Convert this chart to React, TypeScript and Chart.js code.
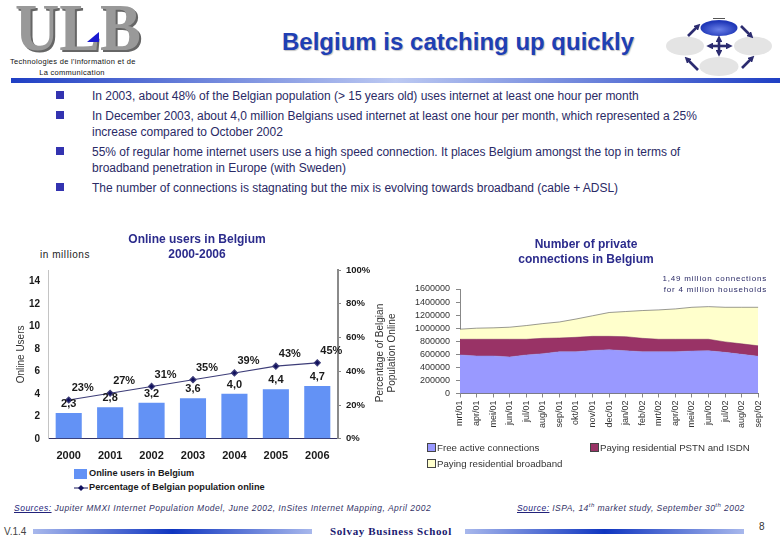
import React, { useEffect, useRef } from "react";
import { Chart, registerables } from "chart.js";

Chart.register(...registerables);

const years = ["2000", "2001", "2002", "2003", "2004", "2005", "2006"];
const onlineUsers = [2.3, 2.8, 3.2, 3.6, 4.0, 4.4, 4.7];
const onlinePercent = [23, 27, 31, 35, 39, 43, 45];
const userTicks = [0, 2, 4, 6, 8, 10, 12, 14];

const months = [
  "mrt/01", "apr/01", "mei/01", "jun/01", "jul/01", "aug/01", "sep/01", "okt/01", "nov/01", "dec/01",
  "jan/02", "feb/02", "mrt/02", "apr/02", "mei/02", "jun/02", "jul/02", "aug/02", "sep/02",
];
const freeActive = [590000, 575000, 575000, 560000, 590000, 610000, 640000, 640000, 660000, 670000, 655000, 640000, 640000, 640000, 650000, 655000, 630000, 600000, 570000];
const payingPstn = [240000, 255000, 255000, 270000, 240000, 235000, 210000, 220000, 215000, 205000, 215000, 205000, 190000, 190000, 180000, 175000, 160000, 160000, 160000];
const payingBroadband = [155000, 170000, 175000, 185000, 210000, 225000, 245000, 280000, 315000, 365000, 385000, 425000, 450000, 465000, 490000, 500000, 530000, 560000, 590000];

const bullets = [
  ["In 2003, about 48% of the Belgian population (> 15 years old) uses internet at least one hour per month"],
  ["In December 2003, about 4,0 million Belgians used internet at least one hour per month, which represented a 25%", "increase compared to October 2002"],
  ["55% of regular home internet users use a high speed connection. It places Belgium amongst the top in terms of", "broadband penetration in Europe (with Sweden)"],
  ["The number of connections is stagnating but the mix is evolving towards broadband (cable + ADSL)"],
];

const FONT = "'Liberation Sans', Arial, sans-serif";
const NAVY = "#2a2a66";
const TITLE_BLUE = "#2b2b8c";

const valueLabels = {
  id: "valueLabels",
  afterDatasetsDraw(chart: any) {
    const ctx = chart.ctx;
    ctx.save();
    ctx.font = `bold 11px ${FONT}`;
    ctx.fillStyle = "#1a1a1a";
    ctx.textAlign = "center";
    ctx.textBaseline = "middle";
    chart.getDatasetMeta(0).data.forEach((el: any, i: number) => {
      ctx.fillText(onlineUsers[i].toFixed(1).replace(".", ","), el.x, el.y - 9);
    });
    chart.getDatasetMeta(1).data.forEach((el: any, i: number) => {
      ctx.fillText(`${onlinePercent[i]}%`, el.x + 14, el.y - 12);
    });
    ctx.restore();
  },
};

function Abs({ x, y, children, style }: any) {
  return <div style={{ position: "absolute", left: x, top: y, whiteSpace: "nowrap", ...style }}>{children}</div>;
}

function Logo() {
  const letters = (fill: string, dx: number, dy: number) => (
    <text x={15 + dx} y={50 + dy} fontFamily="'Liberation Serif', serif" fontWeight="bold" fontSize="68" fill={fill} textLength="126" lengthAdjust="spacingAndGlyphs">ULB</text>
  );
  return (
    <svg width="160" height="56" style={{ position: "absolute", left: 0, top: 0 }}>
      {letters("#666666", 2, 2)}
      {letters("#999999", 0, 0)}
      <polygon points="87,42 99,32 99,42" fill="#1a1ad0" />
    </svg>
  );
}

function Icon() {
  const arrow = (x1: number, y1: number, x2: number, y2: number) => (
    <line x1={x1} y1={y1} x2={x2} y2={y2} stroke="#2c2c70" strokeWidth="2.6" markerEnd="url(#ah)" />
  );
  return (
    <svg width="140" height="80" viewBox="650 0 140 80" style={{ position: "absolute", left: 650, top: 0 }}>
      <defs>
        <marker id="ah" markerWidth="2.6" markerHeight="2.6" refX="0.8" refY="1.3" orient="auto">
          <path d="M0,0 L2.6,1.3 L0,2.6 Z" fill="#2c2c70" />
        </marker>
        <radialGradient id="blueEll" cy="0.6">
          <stop offset="0" stopColor="#6a80e8" />
          <stop offset="1" stopColor="#2038b8" />
        </radialGradient>
      </defs>
      <ellipse cx="719" cy="28" rx="18.5" ry="8" fill="url(#blueEll)" />
      <ellipse cx="685" cy="46" rx="19" ry="9.5" fill="#e4e4e4" />
      <ellipse cx="753" cy="46" rx="19" ry="9.5" fill="#e4e4e4" />
      <ellipse cx="719" cy="66.5" rx="19.5" ry="9.5" fill="#e4e4e4" />
      <line x1="713" y1="18.5" x2="725" y2="18.5" stroke="#555" />
      {arrow(719, 46, 719, 40)}
      {arrow(719, 46, 719, 52)}
      {arrow(719, 46, 711, 46)}
      {arrow(719, 46, 728, 46)}
      {arrow(688, 36, 697, 27)}
      {arrow(741, 26, 750, 35)}
      {arrow(698, 70, 688, 60)}
      {arrow(742, 68, 751, 59)}
    </svg>
  );
}

export default function App() {
  const leftRef = useRef<HTMLCanvasElement>(null);
  const rightRef = useRef<HTMLCanvasElement>(null);

  useEffect(() => {
    const left = new Chart(leftRef.current!, {
      type: "bar",
      data: {
        labels: years,
        datasets: [
          { type: "bar", label: "Online users in Belgium", data: onlineUsers, backgroundColor: "#6392f5", barPercentage: 0.63, categoryPercentage: 1, yAxisID: "y", order: 2 },
          { type: "line", label: "Percentage of Belgian population online", data: onlinePercent, borderColor: "#3d3d78", borderWidth: 1.2, backgroundColor: "#10105e", pointStyle: "rectRot", pointRadius: 3, yAxisID: "y1", order: 1 },
        ],
      } as any,
      options: {
        animation: false,
        responsive: false,
        layout: { padding: { left: 16, right: 16, top: 0, bottom: 0 } },
        plugins: {
          legend: { display: false },
          tooltip: { enabled: false },
          title: {
            display: true,
            text: ["Online users in Belgium", "2000-2006"],
            color: TITLE_BLUE,
            font: { family: FONT, size: 12, weight: "bold", lineHeight: 1.25 },
            padding: { top: 2, bottom: 8 },
          },
        },
        scales: {
          x: {
            grid: { display: false },
            border: { color: "#333366", width: 1 },
            ticks: { color: "#1a1a1a", font: { family: FONT, size: 11, weight: "bold" }, padding: 3, maxRotation: 0 },
          },
          y: {
            min: 0, max: 15,
            afterBuildTicks: (s: any) => { s.ticks = userTicks.map((value) => ({ value })); },
            afterFit: (s: any) => { s.width = 38; },
            grid: { drawOnChartArea: false, drawTicks: false },
            border: { color: "#c4c4c4", width: 1 },
            ticks: { stepSize: 2, color: "#1a1a1a", font: { family: FONT, size: 10, weight: "bold" }, padding: 8 },
            title: { display: true, text: "Online Users", color: "#333", font: { family: FONT, size: 10 }, padding: { top: 5, bottom: 0 } },
          },
          y1: {
            position: "right",
            min: 0, max: 100,
            afterFit: (s: any) => { s.width = 46; },
            grid: { drawOnChartArea: false, tickLength: 3, color: "#888" },
            border: { color: "#8a8a8a", width: 2 },
            ticks: { stepSize: 20, color: "#1a1a1a", font: { family: FONT, size: 9.5, weight: "bold" }, padding: 5, callback: (v: any) => `${v}%` },
          },
        },
      } as any,
      plugins: [valueLabels],
    });

    const right = new Chart(rightRef.current!, {
      type: "line",
      data: {
        labels: months,
        datasets: [
          { label: "Free active connections", data: freeActive, backgroundColor: "#9999ff", borderColor: "#8f8fe0", borderWidth: 0.5, fill: "origin", pointRadius: 0 },
          { label: "Paying residential PSTN and ISDN", data: payingPstn, backgroundColor: "#993366", borderColor: "#7a2a55", borderWidth: 0.5, fill: "-1", pointRadius: 0 },
          { label: "Paying residential broadband", data: payingBroadband, backgroundColor: "#ffffcc", borderColor: "#555", borderWidth: 0.6, fill: "-1", pointRadius: 0 },
        ],
      },
      options: {
        animation: false,
        responsive: false,
        layout: { padding: { left: 12, right: 12, top: 0, bottom: 0 } },
        plugins: {
          legend: { display: false },
          tooltip: { enabled: false },
          title: {
            display: true,
            text: ["Number of private", "connections in Belgium"],
            color: TITLE_BLUE,
            font: { family: FONT, size: 12, weight: "bold", lineHeight: 1.25 },
            padding: { top: 2, bottom: 22 },
          },
        },
        scales: {
          x: {
            stacked: true,
            offset: false,
            grid: { drawOnChartArea: false, tickLength: 4, color: "#888" },
            border: { color: "#777" },
            ticks: { autoSkip: false, minRotation: 90, maxRotation: 90, color: "#333", font: { family: FONT, size: 9 }, padding: 3 },
          },
          y: {
            stacked: true,
            min: 0, max: 1600000,
            afterFit: (s: any) => { s.width = 48; },
            grid: { drawOnChartArea: false, tickLength: 4, color: "#888" },
            border: { color: "#888" },
            ticks: { autoSkip: false, stepSize: 200000, color: "#333", font: { family: FONT, size: 9 }, padding: 6, callback: (v: any) => String(v) },
          },
        },
      } as any,
    });

    return () => {
      left.destroy();
      right.destroy();
    };
  }, []);

  const bulletRows = [95.7, 115.7, 151.7, 187.7];

  return (
    <div style={{ position: "absolute", left: 0, top: 0, width: 780, height: 540, overflow: "hidden", background: "#fff", fontFamily: FONT, color: NAVY }}>
      <Logo />
      <Icon />
      <Abs x={10} y={57} style={{ fontSize: 7.5, letterSpacing: 0.3, color: "#111", lineHeight: "10.5px", width: 124, textAlign: "center" }}>
        Technologies de l'information et de<br />La communication
      </Abs>
      <Abs x={282} y={28} style={{ fontSize: 24, fontWeight: "bold", color: "#1f3fb4", textShadow: "1px 1px 1px #c4c4c4" }}>
        Belgium is catching up quickly
      </Abs>
      <div style={{ position: "absolute", left: 11, top: 78, width: 769, height: 5, background: "linear-gradient(90deg,#1f3fc4,#bcc9f2 50%,#1f3fc4)" }} />

      {bullets.map((lines, i) => (
        <React.Fragment key={i}>
          <div style={{ position: "absolute", left: 56, top: bulletRows[i] - 4.5, width: 7.5, height: 7.5, background: "#3333b0" }} />
          <Abs x={92} y={bulletRows[i] - 8} style={{ fontSize: 12, lineHeight: "16px", letterSpacing: -0.02 }}>
            {lines.map((l, j) => <div key={j}>{l}</div>)}
          </Abs>
        </React.Fragment>
      ))}

      <Abs x={40} y={249} style={{ fontSize: 10, letterSpacing: 0.55, color: "#222" }}>in millions</Abs>

      <canvas ref={leftRef} width={406} height={236} style={{ position: "absolute", left: -6, top: 230, width: 406, height: 236 }} />
      <canvas ref={rightRef} width={372} height={196} style={{ position: "absolute", left: 400, top: 235, width: 372, height: 196 }} />

      <Abs x={374} y={353} style={{ fontSize: 10, lineHeight: "12px", color: "#333", textAlign: "center", width: 24, height: 0, display: "flex", alignItems: "center", justifyContent: "center", transform: "rotate(-90deg)" }}>
        <div>Percentage of Belgian<br />Population Online</div>
      </Abs>

      <Abs x={74} y={469} style={{ width: 13, height: 10, background: "#6392f5" }} />
      <Abs x={89} y={468} style={{ fontSize: 9.2, fontWeight: "bold", color: "#1a1a1a" }}>Online users in Belgium</Abs>
      <svg width="14" height="8" style={{ position: "absolute", left: 74, top: 484 }}>
        <line x1="0" y1="4" x2="14" y2="4" stroke="#3d3d78" strokeWidth="1.2" />
        <polygon points="7,1 10,4 7,7 4,4" fill="#10105e" />
      </svg>
      <Abs x={89} y={482} style={{ fontSize: 9.2, fontWeight: "bold", color: "#1a1a1a" }}>Percentage of Belgian population online</Abs>

      <Abs x={660} y={273} style={{ fontSize: 8, letterSpacing: 0.8, lineHeight: "11px", color: NAVY, width: 107, textAlign: "right" }}>
        1,49 million connections<br />for 4 million households
      </Abs>

      <Abs x={427} y={443} style={{ width: 7, height: 7, background: "#9999ff", border: "0.5px solid #444" }} />
      <Abs x={437} y={442} style={{ fontSize: 9.7, color: "#333" }}>Free active connections</Abs>
      <Abs x={590} y={443} style={{ width: 7, height: 7, background: "#993366", border: "0.5px solid #444" }} />
      <Abs x={600} y={442} style={{ fontSize: 9.7, color: "#333" }}>Paying residential PSTN and ISDN</Abs>
      <Abs x={427} y={459} style={{ width: 7, height: 7, background: "#ffffcc", border: "0.5px solid #444" }} />
      <Abs x={437} y={458} style={{ fontSize: 9.7, color: "#333" }}>Paying residential broadband</Abs>

      <Abs x={14} y={503} style={{ fontSize: 8.5, fontStyle: "italic", letterSpacing: 0.5, color: "#333366" }}>
        <u style={{ color: "#22227a" }}>Sources:</u> Jupiter MMXI Internet Population Model, June 2002, InSites Internet Mapping, April 2002
      </Abs>
      <Abs x={517} y={503} style={{ fontSize: 8.5, fontStyle: "italic", letterSpacing: 0.45, color: "#333366" }}>
        <u style={{ color: "#22227a" }}>Source:</u> ISPA, 14<sup style={{ fontSize: 6, lineHeight: 0 }}>th</sup> market study, September 30<sup style={{ fontSize: 6, lineHeight: 0 }}>th</sup> 2002
      </Abs>

      <Abs x={4} y={526} style={{ fontSize: 10, color: "#444" }}>V.1.4</Abs>
      <div style={{ position: "absolute", left: 33, top: 529, width: 279, height: 5, background: "linear-gradient(90deg,#a8b8ec,#0f35c0 50%,#a8b8ec)" }} />
      <Abs x={330} y={525} style={{ fontFamily: "'Liberation Serif', serif", fontSize: 11, fontWeight: "bold", letterSpacing: 0.62, color: "#1a1a70" }}>Solvay Business School</Abs>
      <div style={{ position: "absolute", left: 465, top: 529, width: 279, height: 5, background: "linear-gradient(90deg,#a8b8ec,#0f35c0 50%,#a8b8ec)" }} />
      <Abs x={759} y={521} style={{ fontSize: 10, color: "#333" }}>8</Abs>
    </div>
  );
}
